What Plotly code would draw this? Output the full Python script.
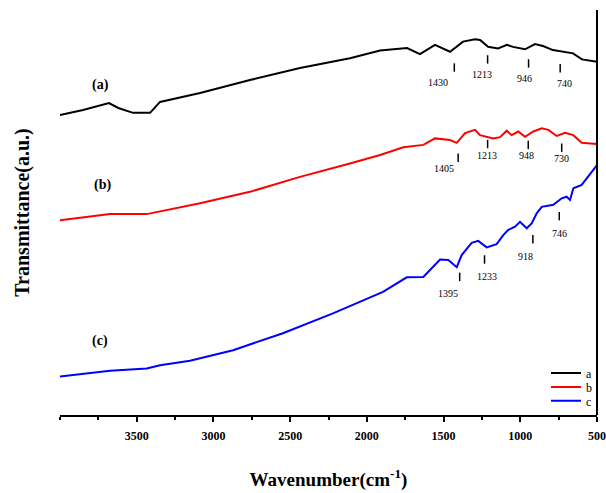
import plotly.graph_objects as go

# FTIR spectra of the three samples (wavenumber in cm^-1, transmittance in arbitrary units)
wn_a = [4000, 3850, 3681, 3620, 3524, 3413, 3348, 3087, 2762, 2436, 2110, 1914, 1738, 1654,
        1556, 1458, 1373, 1295, 1262, 1210, 1145, 1087, 1047, 969, 904, 852, 787, 722, 656, 598, 500]
tr_a = [74.1, 75.3, 77.0, 75.8, 74.6, 74.6, 77.3, 79.5, 82.7, 85.7, 88.1, 90.0, 90.6, 89.1,
        91.4, 89.7, 92.2, 92.8, 92.6, 90.9, 90.5, 91.4, 90.9, 90.3, 91.6, 91.1, 90.1, 89.7, 89.3, 87.8, 87.2]

wn_b = [4000, 3674, 3435, 3087, 2762, 2436, 2110, 1914, 1762, 1632, 1556, 1458, 1414, 1360,
        1295, 1262, 1176, 1132, 1088, 1056, 1013, 969, 915, 860, 817, 763, 708, 654, 600, 500]
tr_b = [48.1, 49.6, 49.6, 52.3, 55.1, 58.8, 62.1, 64.2, 66.1, 66.7, 68.3, 67.9, 67.2, 69.6,
        70.4, 69.1, 68.3, 68.6, 70.2, 69.1, 70.0, 68.7, 70.0, 70.8, 70.4, 68.9, 69.7, 69.1, 67.2, 66.9]

wn_c = [4000, 3674, 3435, 3348, 3153, 2872, 2547, 2221, 1895, 1740, 1632, 1523, 1469, 1414,
        1382, 1317, 1274, 1219, 1154, 1111, 1078, 1034, 1002, 958, 926, 893, 860, 785, 730,
        698, 676, 654, 600, 524, 500]
tr_c = [9.5, 10.9, 11.5, 12.3, 13.4, 16.0, 20.2, 25.1, 30.4, 34.0, 34.1, 38.4, 38.3, 36.5,
        39.5, 42.5, 43.0, 41.4, 42.2, 44.4, 45.7, 46.5, 47.7, 46.1, 47.3, 49.8, 51.4, 51.9, 53.5,
        53.9, 53.1, 56.0, 56.8, 60.5, 61.7]

# Assigned bands for each spectrum
peaks_a = [1430, 1213, 946, 740]
peaks_b = [1405, 1213, 948, 730]
peaks_c = [1395, 1233, 918, 746]

series_names = ["a", "b", "c"]
curve_tags = ["(a)", "(b)", "(c)"]
tick_vals = [3500, 3000, 2500, 2000, 1500, 1000, 500]

# ---- styling / placement ----
colors = ["#000000", "#ff0000", "#0000ff"]
serif = "Liberation Serif"
# tick-mark heights above each band label and horizontal label offsets (px)
mark_y = {
    "a": [85.8, 87.8, 86.8, 85.6],
    "b": [63.5, 66.9, 66.7, 66.0],
    "c": [34.1, 38.4, 43.4, 49.1],
}
label_dx = {
    "a": [-16, -6, -4, 4],
    "b": [-14, -1, -2, 0],
    "c": [-12, 2, -7, 0],
}
label_dy = {"a": 15, "b": 11, "c": 17}
tag_pos = [(3739, 81.5), (3720, 56.8), (3739, 18.3)]
legend_ids = ["legend", "legend2", "legend3"]
legend_y = [0.104, 0.069, 0.035]

fig = go.Figure()
for name, wn, tr, col, lg in zip(series_names, [wn_a, wn_b, wn_c], [tr_a, tr_b, tr_c],
                                 colors, legend_ids):
    fig.add_trace(go.Scatter(x=wn, y=tr, mode="lines", name=name, legend=lg,
                             line=dict(color=col, width=2)))

annotations = []
for name, peaks in zip(series_names, [peaks_a, peaks_b, peaks_c]):
    fig.add_trace(go.Scatter(
        x=peaks, y=mark_y[name], mode="markers", showlegend=False, hoverinfo="skip",
        marker=dict(symbol="line-ns", size=6, line=dict(color="#000000", width=1.5)),
    ))
    for p, yv, dx in zip(peaks, mark_y[name], label_dx[name]):
        annotations.append(dict(
            x=p, y=yv, text=str(p), showarrow=False, xshift=dx, yshift=-label_dy[name],
            font=dict(family=serif, size=10, color="#000000"),
        ))

for tag, (tx, ty) in zip(curve_tags, tag_pos):
    annotations.append(dict(
        x=tx, y=ty, text="<b>" + tag + "</b>", showarrow=False,
        font=dict(family=serif, size=14, color="#000000"),
    ))

legend_style = dict(x=1.0, xanchor="right", yanchor="middle", bgcolor="rgba(0,0,0,0)",
                    font=dict(family=serif, size=12), borderwidth=0)
legend_layout = {lg: dict(legend_style, y=yv) for lg, yv in zip(legend_ids, legend_y)}

fig.update_layout(
    width=606, height=493,
    margin=dict(l=60, r=9, t=10, b=78, autoexpand=False),
    paper_bgcolor="white", plot_bgcolor="white",
    font=dict(family=serif, color="#000000"),
    annotations=annotations,
    showlegend=True,
    xaxis=dict(
        range=[4000, 500], showgrid=False, zeroline=False, automargin=False,
        showline=True, linecolor="#000000", linewidth=2,
        ticks="outside", ticklen=5, tickwidth=1.5, tickcolor="#000000",
        tickvals=tick_vals, ticktext=["<b>%d</b>" % v for v in tick_vals],
        tickfont=dict(family=serif, size=12), ticklabelstandoff=4,
        minor=dict(ticks="outside", ticklen=3, dtick=250, tick0=500, tickcolor="#000000"),
        title=dict(text="<b>Wavenumber(cm<sup>-1</sup>)</b>", font=dict(family=serif, size=19),
                   standoff=30),
    ),
    yaxis=dict(
        range=[0, 100], showgrid=False, zeroline=False, showline=False, automargin=False,
        showticklabels=False, ticks="",
        title=dict(text="<b>Transmittance(a.u.)</b>", font=dict(family=serif, size=20),
                   standoff=24),
    ),
    shapes=[dict(type="line", xref="paper", yref="paper", x0=1, x1=1, y0=0, y1=1,
                 line=dict(color="#000000", width=2))],
    **legend_layout,
)

fig.write_html("out.html")
